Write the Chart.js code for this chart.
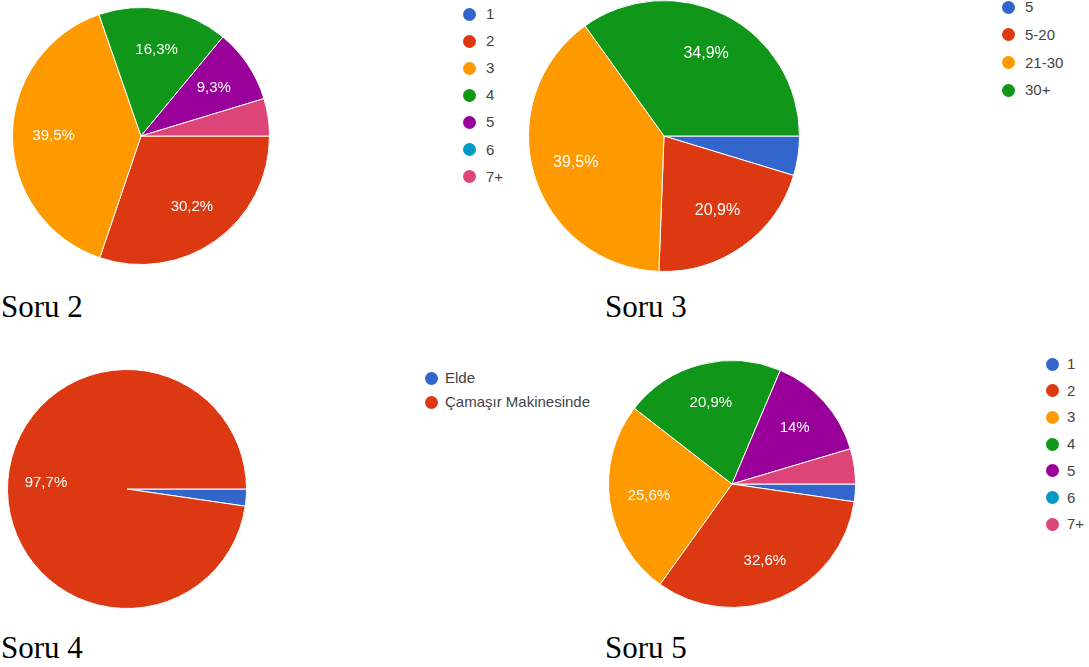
<!DOCTYPE html>
<html lang="tr">
<head>
    <meta charset="UTF-8">
    <title>Soru 2-5</title>
    <script src="https://cdn.jsdelivr.net/npm/chart.js"></script>
    <style>
        body {
            margin: 0;
            padding: 0;
            background-color: #fff;
            width: 1089px;
            height: 667px;
            position: relative;
            overflow: hidden;
        }

        .pie {
            position: absolute;
        }

        .legend {
            position: absolute;
            font-family: 'Liberation Sans', Arial, sans-serif;
            color: #444;
        }

        .legend .item {
            position: absolute;
            white-space: nowrap;
        }

        .legend .dot {
            position: absolute;
            width: 13px;
            height: 13px;
            border-radius: 50%;
        }

        .soru {
            position: absolute;
            font-family: 'Liberation Serif', 'Times New Roman', serif;
            font-size: 31px;
            line-height: 31px;
            color: #000;
        }
    </style>
</head>
<body>
    <div class="pie" id="box2" style="left:12px; top:7px; width:258px; height:258px;"><canvas id="chart2"></canvas></div>
    <div class="pie" id="box3" style="left:528px; top:0px; width:272px; height:272px;"><canvas id="chart3"></canvas></div>
    <div class="pie" id="box4" style="left:7px; top:369px; width:240px; height:240px;"><canvas id="chart4"></canvas></div>
    <div class="pie" id="box5" style="left:608px; top:360px; width:248px; height:248px;"><canvas id="chart5"></canvas></div>

    <div class="legend" id="legend2"></div>
    <div class="legend" id="legend3"></div>
    <div class="legend" id="legend4"></div>
    <div class="legend" id="legend5"></div>

    <div class="soru" style="left:1px; top:291px;">Soru 2</div>
    <div class="soru" style="left:605px; top:291px;">Soru 3</div>
    <div class="soru" style="left:1px; top:632px;">Soru 4</div>
    <div class="soru" style="left:605px; top:632px;">Soru 5</div>

    <script>
        // percentages
        const soru2Labels = ['1', '2', '3', '4', '5', '6', '7+'];
        const soru2Values = [0, 30.2, 39.5, 16.3, 9.3, 0, 4.7];

        const soru3Labels = ['5', '5-20', '21-30', '30+'];
        const soru3Values = [4.7, 20.9, 39.5, 34.9];

        const soru4Labels = ['Elde', 'Çamaşır Makinesinde'];
        const soru4Values = [2.3, 97.7];

        const soru5Labels = ['1', '2', '3', '4', '5', '6', '7+'];
        const soru5Values = [2.3, 32.6, 25.6, 20.9, 14, 0, 4.6];

        const googleColors = ['#3366cc', '#dc3912', '#ff9900', '#109618', '#990099', '#0099c6', '#dd4477'];

        // percent text inside the slices, like google forms does
        const sliceText = {
            id: 'sliceText',
            afterDatasetsDraw(chart, args, opts) {
                const ctx = chart.ctx;
                const meta = chart.getDatasetMeta(0);
                const data = chart.data.datasets[0].data;
                ctx.save();
                ctx.fillStyle = '#fff';
                ctx.font = opts.size + 'px "Liberation Sans", Arial, sans-serif';
                ctx.textAlign = 'center';
                ctx.textBaseline = 'middle';
                meta.data.forEach((arc, i) => {
                    const v = data[i];
                    if (v < 6) return;
                    const p = arc.getProps(['x', 'y', 'startAngle', 'endAngle', 'outerRadius'], true);
                    const mid = (p.startAngle + p.endAngle) / 2;
                    const r = p.outerRadius * 0.68;
                    const txt = String(Math.round(v * 10) / 10).replace('.', ',') + '%';
                    ctx.fillText(txt, p.x + Math.cos(mid) * r, p.y + Math.sin(mid) * r);
                });
                ctx.restore();
            }
        };

        function dibujarPie(id, labels, values, textSize) {
            const ctx = document.getElementById(id).getContext('2d');
            return new Chart(ctx, {
                type: 'pie',
                data: {
                    labels: labels,
                    datasets: [{
                        data: values,
                        backgroundColor: googleColors.slice(0, labels.length),
                        borderColor: '#fff',
                        borderWidth: 1
                    }]
                },
                options: {
                    responsive: true,
                    maintainAspectRatio: false,
                    animation: false,
                    rotation: 90,
                    layout: { padding: 0 },
                    plugins: {
                        legend: { display: false },
                        tooltip: { enabled: false },
                        sliceText: { size: textSize }
                    }
                },
                plugins: [sliceText]
            });
        }

        function dibujarLeyenda(id, labels, x, y, gap, textDx, size) {
            const el = document.getElementById(id);
            el.style.left = x + 'px';
            el.style.top = y + 'px';
            el.style.fontSize = size + 'px';
            labels.forEach((lab, i) => {
                const dot = document.createElement('div');
                dot.className = 'dot';
                dot.style.left = '-6.5px';
                dot.style.top = (i * gap - 6.5) + 'px';
                dot.style.backgroundColor = googleColors[i];
                el.appendChild(dot);

                const item = document.createElement('div');
                item.className = 'item';
                item.textContent = lab;
                item.style.left = textDx + 'px';
                item.style.top = (i * gap - size * 0.6) + 'px';
                el.appendChild(item);
            });
        }

        dibujarPie('chart2', soru2Labels, soru2Values, 15);
        dibujarPie('chart3', soru3Labels, soru3Values, 16);
        dibujarPie('chart4', soru4Labels, soru4Values, 15);
        dibujarPie('chart5', soru5Labels, soru5Values, 15);

        dibujarLeyenda('legend2', soru2Labels, 469, 14, 27.1, 17, 15);
        dibujarLeyenda('legend3', soru3Labels, 1008, 7, 27.8, 17, 15);
        dibujarLeyenda('legend4', soru4Labels, 431, 378, 24, 14, 15);
        dibujarLeyenda('legend5', soru5Labels, 1052, 364, 26.7, 15, 15);
    </script>
</body>
</html>
